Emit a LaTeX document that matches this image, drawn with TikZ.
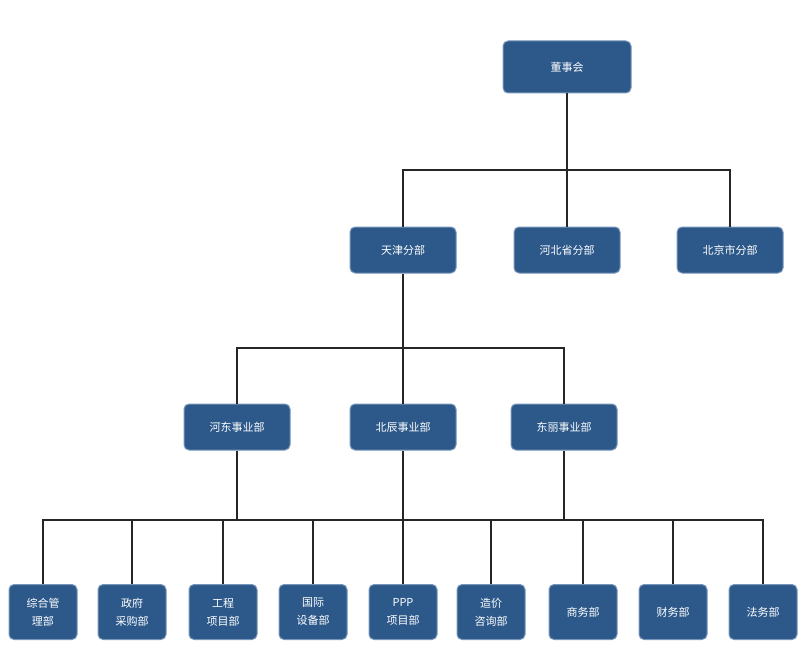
\documentclass[tikz,border=0pt]{standalone}
\usepackage{fontspec}
\newfontfamily\cjk{Noto Sans CJK SC}
\usetikzlibrary{positioning}
\definecolor{boxblue}{RGB}{44,88,138}
\definecolor{boxedge}{RGB}{120,150,185}
\tikzset{
	unit/.style={draw=boxedge, line width=1pt, fill=boxblue, rounded corners=5pt, text=white, font=\cjk\fontsize{11}{18}\selectfont, align=center, inner sep=0pt},
	big/.style={unit, minimum width=106pt, minimum height=46pt},
	small/.style={unit, minimum width=68pt, minimum height=55pt},
	link/.style={line width=1.6pt, black!85}
}
\begin{document}
\begin{tikzpicture}[x=1pt, y=-1pt]
	\useasboundingbox (0,0) rectangle (800,658);
	\node[big, minimum width=128pt, minimum height=52pt] (board) at (567,67) {董事会};
	\node[big] (tj) at (403,250) {天津分部};
	\node[big] (hb) at (567,250) {河北省分部};
	\node[big] (bj) at (730,250) {北京市分部};
	\node[big] (hd) at (237,427) {河东事业部};
	\node[big] (bc) at (403,427) {北辰事业部};
	\node[big] (dl) at (564,427) {东丽事业部};
	\node[small] (d1) at (43,612) {综合管\\理部};
	\node[small] (d2) at (132,612) {政府\\采购部};
	\node[small] (d3) at (223,612) {工程\\项目部};
	\node[small] (d4) at (313,612) {国际\\设备部};
	\node[small] (d5) at (403,612) {PPP\\项目部};
	\node[small] (d6) at (491,612) {造价\\咨询部};
	\node[small] (d7) at (583,612) {商务部};
	\node[small] (d8) at (673,612) {财务部};
	\node[small] (d9) at (763,612) {法务部};
	% tree lines
	\coordinate (top) at (567,170);
	\coordinate (mid) at (403,348);
	\coordinate (low) at (403,520);
	\draw[link] (board) -- (top);
	\draw[link] (tj) |- (top) -| (bj);
	\draw[link] (top) -- (hb);
	\draw[link] (tj) -- (mid);
	\draw[link] (hd) |- (mid) -| (dl);
	\draw[link] (mid) -- (bc);
	\draw[link] (d1) |- (low) -| (d9);
	\foreach \n in {d2,d3,d4,d5,d6,d7,d8}
		\draw[link] (\n) -- (\n |- low);
	\draw[link] (hd) -- (hd |- low);
	\draw[link] (bc) -- (bc |- low);
	\draw[link] (dl) -- (dl |- low);
\end{tikzpicture}
\end{document}
